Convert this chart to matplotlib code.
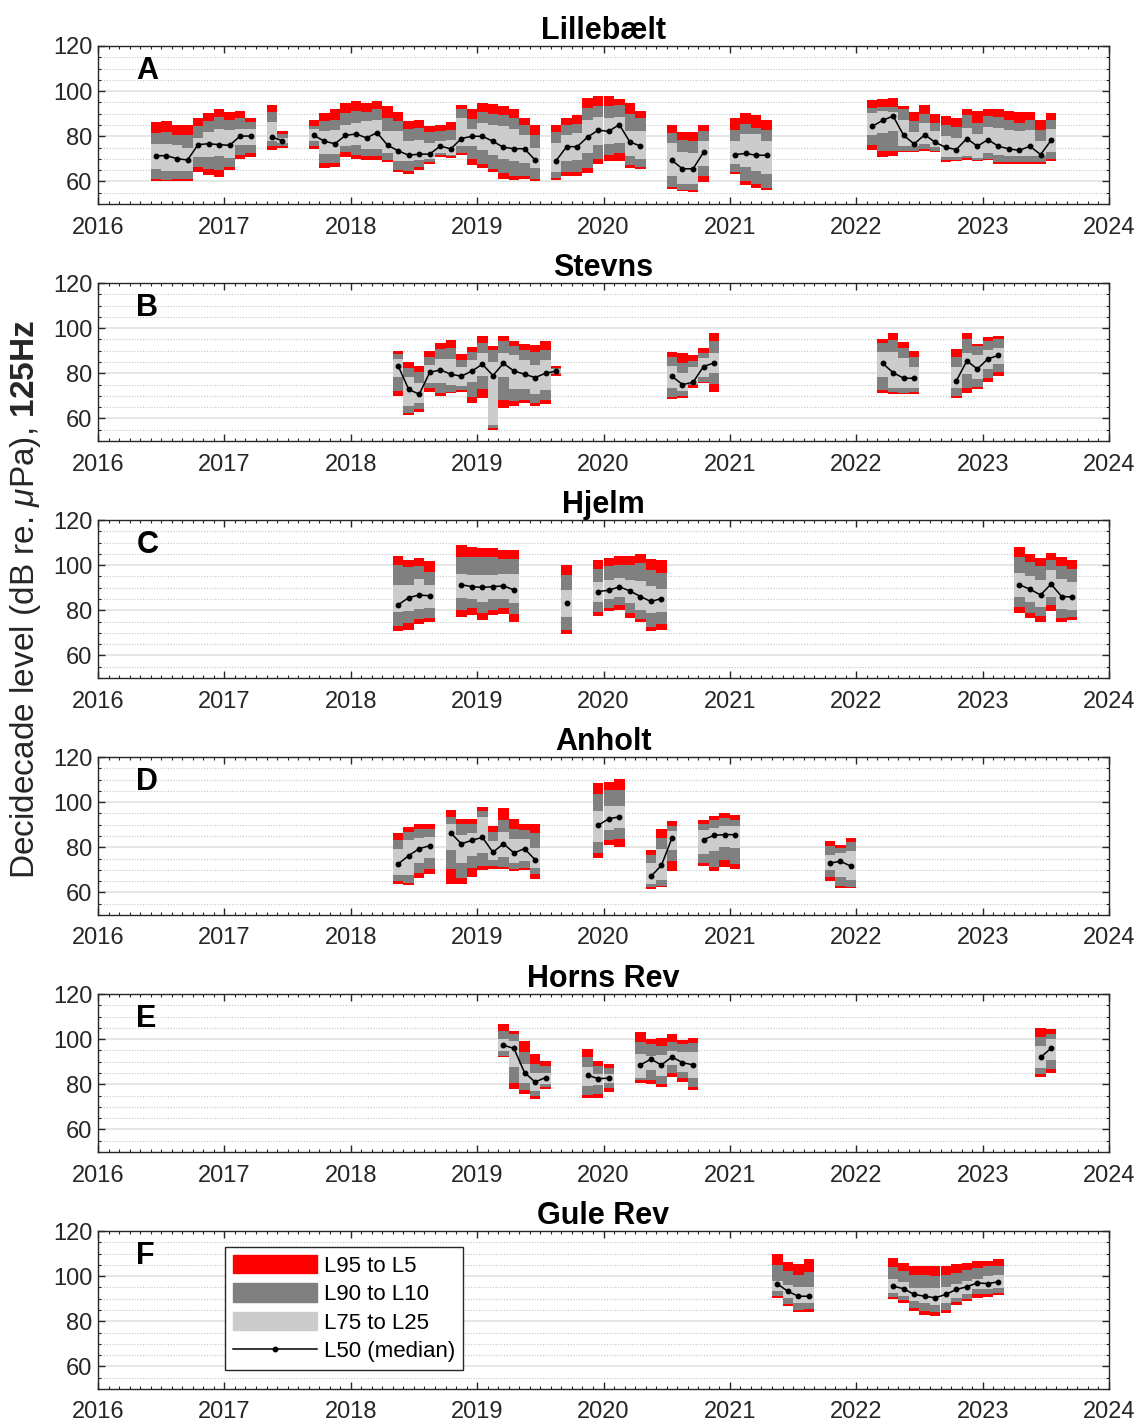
import numpy as np
import matplotlib
matplotlib.use("Agg")
import matplotlib.pyplot as plt
from matplotlib.patches import Patch
from matplotlib.lines import Line2D
import matplotlib.ticker as ticker

plt.rcParams["font.family"] = ["Liberation Sans", "DejaVu Sans"]
plt.rcParams["mathtext.fontset"] = "custom"
plt.rcParams["mathtext.rm"] = "Liberation Sans"
plt.rcParams["mathtext.it"] = "Liberation Sans:italic"
plt.rcParams["mathtext.bf"] = "Liberation Sans:bold"

nan = np.nan

# 每个站点: 起始月份, 然后逐月数值 (nan = 无数据)
# l5 最高 ... l95 最低
stations = ["Lillebælt", "Stevns", "Hjelm", "Anholt", "Horns Rev", "Gule Rev"]
letters = ["A", "B", "C", "D", "E", "F"]

# Lillebælt
lil_start = "2016-06"
lil_l5 = ([86.4, 86.7, 85.2, 85.2, 87.9, 90.4, 92.3, 90.8, 91.4, 88.1] + [nan] + [93.8, 82.2] + [nan] * 2
          + [87.0, 90.4, 91.9, 94.7, 95.6, 94.8, 95.6, 93.3, 90.8, 86.7, 87.3, 84.4, 84.9, 86.2, 93.8, 92.3, 94.8, 94.1, 93.3, 92.1, 88.1, 85.2] + [nan]
          + [85.2, 88.1, 89.3, 97.0, 97.8, 97.8, 96.7, 94.8, 91.4] + [nan] * 2 + [85.2, 81.9, 81.9, 85.2] + [nan] * 2
          + [88.1, 90.4, 89.6, 87.4] + [nan] * 9
          + [95.9, 96.7, 97.0, 93.3, 90.8, 93.8, 89.9, 88.9, 88.1, 91.9, 91.4, 92.3, 91.9, 91.4, 90.8, 90.8, 87.0, 90.4])
lil_l10 = ([81.5, 81.9, 80.7, 80.7, 84.6, 86.7, 88.6, 87.4, 88.1, 86.2] + [nan] + [90.8, 81.0] + [nan] * 2
           + [84.6, 86.7, 87.4, 90.4, 91.1, 90.8, 92.3, 88.1, 86.7, 83.4, 83.7, 81.9, 82.2, 82.9, 92.3, 87.7, 90.8, 89.9, 89.3, 88.1, 85.2, 80.7] + [nan]
           + [81.9, 85.2, 85.5, 92.6, 93.3, 93.3, 93.8, 89.9, 87.9] + [nan] * 2 + [81.5, 78.5, 77.8, 82.2] + [nan] * 2
           + [83.0, 85.5, 83.7, 83.0] + [nan] * 9
           + [92.6, 92.9, 92.9, 91.9, 86.7, 89.9, 85.9, 85.2, 84.0, 89.3, 85.9, 88.9, 88.5, 87.4, 85.9, 87.4, 83.0, 87.4])
lil_l25 = ([76.7, 76.7, 76.0, 74.8, 79.3, 81.9, 83.4, 82.8, 83.4, 83.4] + [nan] + [86.4, 79.3] + [nan] * 2
           + [83.1, 82.2, 82.8, 85.2, 85.9, 86.7, 87.4, 82.2, 82.2, 78.1, 78.4, 77.0, 77.8, 78.4, 87.9, 83.4, 85.9, 85.2, 84.4, 83.4, 80.7, 74.8] + [nan]
           + [77.0, 80.4, 81.3, 87.4, 88.4, 88.1, 88.4, 82.2, 82.2] + [nan] * 2 + [77.0, 72.9, 72.6, 77.8] + [nan] * 2
           + [78.1, 81.0, 81.0, 78.1] + [nan] * 9
           + [90.4, 91.1, 90.8, 87.4, 82.0, 85.9, 82.2, 80.0, 79.3, 83.7, 81.0, 84.0, 83.7, 83.0, 82.2, 83.0, 77.8, 83.4])
lil_l50 = ([71.4, 71.4, 70.1, 69.5, 76.3, 76.7, 76.3, 76.0, 80.1, 80.1] + [nan] + [79.6, 78.1] + [nan] * 2
           + [80.4, 77.8, 76.7, 80.4, 81.0, 79.3, 81.6, 76.0, 73.6, 71.6, 72.1, 72.1, 75.7, 74.4, 79.0, 80.0, 80.0, 77.8, 75.1, 74.5, 74.5, 69.5] + [nan]
           + [69.2, 75.4, 75.4, 79.7, 82.7, 82.2, 85.2, 77.5, 75.7] + [nan] * 2 + [69.3, 65.6, 65.6, 72.9] + [nan] * 2
           + [71.9, 72.4, 71.6, 71.6] + [nan] * 9
           + [84.4, 87.0, 89.0, 80.4, 76.6, 80.7, 77.3, 75.1, 74.1, 79.0, 75.6, 78.5, 75.6, 74.4, 73.8, 75.6, 71.9, 78.2])
lil_l75 = ([65.5, 64.7, 64.7, 64.4, 70.8, 70.7, 71.1, 70.4, 76.0, 76.0] + [nan] + [77.8, 77.0] + [nan] * 2
           + [77.8, 72.1, 72.1, 75.7, 76.0, 74.5, 74.5, 72.6, 68.9, 68.9, 69.6, 70.1, 72.7, 71.9, 75.6, 75.6, 74.1, 71.9, 70.1, 69.2, 68.1, 65.9] + [nan]
           + [64.0, 69.2, 69.6, 72.6, 76.0, 76.7, 77.0, 71.1, 70.1] + [nan] * 2 + [62.2, 58.8, 58.8, 66.8] + [nan] * 2
           + [67.9, 66.2, 64.4, 63.3] + [nan] * 9
           + [80.4, 81.5, 82.2, 75.6, 75.6, 76.6, 75.1, 70.7, 70.7, 71.1, 70.4, 72.6, 71.9, 71.1, 71.1, 71.1, 71.1, 73.0])
lil_l90 = ([61.2, 60.7, 61.0, 61.2, 66.2, 65.5, 65.0, 66.5, 71.7, 72.4] + [nan] + [75.6, 75.6] + [nan] * 2
           + [75.6, 68.1, 68.1, 72.9, 71.9, 71.4, 71.1, 69.6, 65.2, 64.7, 66.2, 68.6, 71.6, 71.1, 72.7, 69.9, 67.9, 65.5, 63.7, 62.2, 62.2, 61.2] + [nan]
           + [61.5, 64.0, 64.0, 65.9, 70.1, 71.9, 72.6, 67.1, 66.5] + [nan] * 2 + [57.5, 56.3, 56.3, 62.2] + [nan] * 2
           + [64.1, 60.3, 58.8, 57.3] + [nan] * 9
           + [76.3, 73.3, 73.3, 73.3, 73.6, 74.5, 73.6, 69.6, 69.6, 70.4, 69.6, 70.1, 68.6, 68.6, 68.6, 68.6, 68.6, 70.1])
lil_l95 = ([60.3, 60.0, 60.3, 60.3, 64.0, 62.7, 61.9, 65.0, 69.9, 70.8] + [nan] + [74.1, 74.8] + [nan] * 2
           + [74.4, 65.9, 66.2, 71.0, 70.1, 69.6, 69.3, 68.6, 64.0, 63.4, 64.9, 67.7, 70.8, 70.4, 71.7, 67.1, 65.9, 64.0, 61.2, 60.7, 61.0, 60.0] + [nan]
           + [60.7, 62.2, 62.5, 63.7, 67.7, 69.2, 68.9, 65.9, 65.6] + [nan] * 2 + [56.6, 55.6, 55.3, 59.6] + [nan] * 2
           + [63.3, 58.2, 57.3, 56.3] + [nan] * 9
           + [74.1, 70.7, 71.1, 73.0, 73.0, 73.6, 72.9, 68.6, 68.9, 69.6, 68.9, 69.6, 67.7, 67.7, 67.7, 67.7, 67.7, 69.2])

# Stevns
ste_start = "2018-05"
ste_l5 = ([89.9, 85.2, 83.4, 89.9, 93.3, 94.8, 88.4, 91.6, 96.3, 92.3, 96.3, 94.1, 93.0, 92.6, 94.1, 83.4] + [nan] * 10
          + [89.6, 89.2, 87.9, 91.1, 97.8] + [nan] * 15 + [95.3, 97.8, 93.8, 89.9] + [nan] * 3 + [90.8, 97.8, 93.0, 95.9, 96.6])
ste_l10 = ([88.7, 82.5, 80.7, 87.4, 90.8, 91.4, 85.9, 89.6, 93.3, 90.4, 94.1, 91.9, 90.4, 89.3, 90.4, 82.5] + [nan] * 10
           + [87.0, 84.7, 85.5, 88.9, 94.1] + [nan] * 15 + [93.3, 94.8, 91.1, 87.0] + [nan] * 3 + [87.4, 95.3, 91.9, 94.4, 95.3])
ste_l25 = ([86.4, 78.5, 75.6, 83.7, 86.4, 86.4, 83.0, 85.9, 88.9, 85.2, 88.9, 87.9, 85.9, 83.7, 85.9, 81.9] + [nan] * 10
           + [83.4, 80.3, 82.8, 86.7, 88.9] + [nan] * 15 + [89.6, 89.6, 86.7, 83.0] + [nan] * 3 + [83.0, 88.9, 87.9, 90.4, 91.1])
ste_l50 = ([83.3, 72.9, 70.7, 80.4, 81.5, 79.6, 78.7, 81.0, 84.0, 79.0, 84.4, 81.0, 79.6, 78.1, 80.0, 81.0] + [nan] * 10
           + [78.7, 75.0, 76.0, 83.0, 84.6] + [nan] * 15 + [84.4, 80.3, 77.8, 77.8] + [nan] * 3 + [76.6, 85.5, 81.9, 86.4, 87.9])
ste_l75 = ([78.5, 65.6, 66.7, 75.6, 75.6, 74.8, 74.5, 76.3, 78.8, 57.0, 78.5, 73.0, 73.0, 70.7, 72.6, 80.0] + [nan] * 10
           + [73.6, 72.1, 75.3, 78.5, 80.0] + [nan] * 15 + [78.5, 73.6, 73.3, 73.3] + [nan] * 3 + [73.6, 79.6, 77.5, 81.9, 84.0])
ste_l90 = ([72.1, 62.5, 64.1, 73.3, 71.1, 71.9, 72.6, 69.6, 73.0, 55.6, 68.1, 67.9, 68.1, 66.7, 68.1, 79.6] + [nan] * 10
           + [69.6, 69.9, 74.8, 76.3, 75.1] + [nan] * 15 + [72.6, 71.9, 71.4, 71.9] + [nan] * 3 + [69.9, 73.3, 74.1, 78.1, 80.4])
ste_l95 = ([69.8, 61.5, 63.0, 71.9, 69.9, 71.1, 71.9, 66.7, 69.2, 55.0, 64.7, 65.6, 66.7, 65.6, 66.4, 78.8] + [nan] * 10
           + [68.6, 69.2, 73.6, 75.6, 71.9] + [nan] * 15 + [71.4, 70.7, 70.7, 71.0] + [nan] * 3 + [68.9, 71.1, 73.0, 76.3, 79.0])

# Hjelm
hje_start = "2018-05"
hje_l5 = ([104.1, 102.4, 103.0, 101.9] + [nan] * 2 + [108.9, 108.0, 107.4, 107.4, 106.7, 106.7] + [nan] * 4 + [100.0] + [nan] * 2
          + [102.4, 103.1, 103.9, 103.9, 104.9, 102.7, 102.4] + [nan] * 33 + [107.9, 104.9, 103.1, 105.6, 103.4, 102.2])
hje_l10 = ([100.0, 99.0, 99.6, 97.0] + [nan] * 2 + [103.4, 103.4, 103.4, 103.4, 102.7, 102.7] + [nan] * 4 + [95.6] + [nan] * 2
           + [98.2, 99.7, 100.0, 100.0, 100.9, 97.9, 96.4] + [nan] * 33 + [103.6, 101.2, 99.7, 102.4, 99.4, 98.2])
hje_l25 = ([91.3, 91.3, 93.8, 91.3] + [nan] * 2 + [96.0, 95.6, 95.6, 95.6, 96.0, 96.0] + [nan] * 4 + [89.0] + [nan] * 2
           + [92.7, 93.5, 94.5, 93.5, 93.0, 90.8, 89.6] + [nan] * 33 + [96.4, 95.0, 93.3, 97.8, 93.8, 92.7])
hje_l50 = ([82.4, 85.6, 86.8, 86.4] + [nan] * 2 + [91.3, 90.5, 90.1, 90.5, 90.8, 89.0] + [nan] * 4 + [83.1] + [nan] * 2
           + [88.3, 88.9, 90.4, 88.6, 86.1, 83.9, 85.2] + [nan] * 33 + [91.3, 89.3, 86.8, 91.6, 86.1, 85.9])
hje_l75 = ([79.4, 79.7, 80.4, 81.2] + [nan] * 2 + [85.3, 84.9, 83.7, 84.9, 85.2, 83.4] + [nan] * 4 + [77.2] + [nan] * 2
           + [83.7, 84.9, 86.1, 83.4, 80.1, 78.7, 79.3] + [nan] * 33 + [85.9, 83.7, 81.6, 86.1, 80.4, 80.1])
hje_l90 = ([73.0, 74.2, 76.3, 76.7] + [nan] * 2 + [80.0, 81.2, 79.0, 80.1, 80.9, 78.2] + [nan] * 4 + [71.3] + [nan] * 2
           + [79.3, 81.2, 82.2, 79.0, 76.0, 72.7, 73.8] + [nan] * 33 + [81.5, 79.0, 77.5, 82.2, 76.7, 77.2])
hje_l95 = ([70.8, 71.3, 74.1, 74.8] + [nan] * 2 + [77.0, 77.8, 75.7, 77.8, 78.2, 74.8] + [nan] * 4 + [69.3] + [nan] * 2
           + [77.5, 79.7, 80.1, 76.7, 74.8, 70.8, 71.1] + [nan] * 33 + [79.0, 76.7, 74.8, 79.7, 74.8, 75.6])

# Anholt
anh_start = "2018-05"
anh_l5 = ([86.4, 89.0, 90.1, 90.5] + [nan] + [96.4, 92.6, 92.6, 97.8, 89.6, 97.5, 92.6, 90.5, 90.1] + [nan] * 5
          + [108.3, 108.9, 110.1] + [nan] * 2 + [78.7, 87.9, 91.6] + [nan] * 2 + [92.0, 93.8, 95.3, 94.5] + [nan] * 8 + [82.7, 81.2, 84.1])
anh_l10 = ([83.1, 86.8, 87.9, 88.3] + [nan] + [93.5, 90.4, 90.5, 96.0, 86.7, 92.0, 88.1, 87.6, 86.4] + [nan] * 5
           + [103.4, 105.3, 105.6] + [nan] * 2 + [76.7, 84.1, 89.6] + [nan] * 2 + [90.1, 92.0, 93.0, 92.3] + [nan] * 8 + [80.7, 79.7, 82.4])
anh_l25 = ([79.4, 83.4, 84.1, 84.6] + [nan] + [90.1, 85.6, 86.4, 93.5, 82.7, 86.7, 83.7, 83.7, 79.7] + [nan] * 5
           + [96.0, 98.5, 98.5] + [nan] * 2 + [73.0, 79.3, 87.1] + [nan] * 2 + [87.6, 88.6, 89.3, 89.3] + [nan] * 8 + [76.7, 77.5, 78.2])
anh_l50 = ([72.6, 76.3, 79.4, 80.7] + [nan] + [86.4, 81.5, 83.1, 84.4, 77.8, 81.6, 77.5, 79.4, 74.5] + [nan] * 5
           + [89.8, 92.6, 93.5] + [nan] * 2 + [67.1, 72.0, 84.1] + [nan] * 2 + [83.4, 85.3, 85.6, 85.6] + [nan] * 8 + [73.0, 73.8, 71.6])
anh_l75 = ([67.6, 67.9, 73.0, 75.3] + [nan] + [78.7, 73.0, 76.3, 77.5, 74.2, 75.6, 73.0, 73.8, 70.8] + [nan] * 5
           + [82.2, 87.6, 88.6] + [nan] * 2 + [63.7, 65.6, 79.0] + [nan] * 2 + [77.2, 78.2, 80.1, 79.7] + [nan] * 8 + [70.1, 66.8, 65.6])
anh_l90 = ([64.9, 64.1, 68.6, 70.4] + [nan] + [70.4, 66.4, 70.8, 71.6, 71.6, 71.3, 70.4, 70.8, 68.3] + [nan] * 5
           + [77.5, 83.4, 83.7] + [nan] * 2 + [62.2, 63.0, 73.8] + [nan] * 2 + [73.0, 71.3, 74.2, 72.6] + [nan] * 8 + [66.8, 62.7, 62.4])
anh_l95 = ([63.9, 63.1, 66.4, 68.3] + [nan] + [63.7, 63.9, 66.8, 70.1, 70.4, 70.4, 69.3, 70.1, 66.1] + [nan] * 5
           + [75.3, 81.2, 80.0] + [nan] * 2 + [61.5, 62.2, 69.3] + [nan] * 2 + [71.6, 69.3, 71.3, 70.4] + [nan] * 8 + [64.9, 61.9, 61.9])

# Horns Rev
hor_start = "2019-03"
hor_l5 = ([106.7, 103.7, 99.0, 93.3, 90.1] + [nan] * 3 + [95.6, 90.4, 88.9] + [nan] * 2
          + [103.0, 100.0, 100.4, 102.5, 99.6, 100.4] + [nan] * 32 + [104.9, 104.4])
hor_l10 = ([103.4, 102.2, 94.1, 88.9, 87.9] + [nan] * 3 + [91.9, 88.1, 87.1] + [nan] * 2
           + [98.9, 97.8, 97.0, 98.9, 97.8, 98.5] + [nan] * 32 + [101.0, 102.5])
hor_l25 = ([100.0, 99.3, 88.9, 85.2, 85.2] + [nan] * 3 + [87.7, 84.7, 84.7] + [nan] * 2
           + [93.3, 92.6, 93.0, 94.8, 94.1, 94.5] + [nan] * 32 + [97.0, 100.0])
hor_l50 = ([97.3, 95.9, 85.2, 81.0, 83.0] + [nan] * 3 + [84.0, 82.5, 82.7] + [nan] * 2
           + [88.6, 91.1, 88.6, 92.1, 89.6, 88.6] + [nan] * 32 + [91.9, 96.0])
hor_l75 = ([94.8, 87.7, 80.7, 77.0, 80.0] + [nan] * 3 + [79.3, 79.6, 80.7] + [nan] * 2
           + [82.7, 86.2, 83.7, 88.6, 85.5, 82.7] + [nan] * 32 + [87.1, 90.7])
hor_l90 = ([92.6, 80.7, 77.3, 74.8, 78.8] + [nan] * 3 + [75.3, 75.6, 78.2] + [nan] * 2
           + [82.1, 81.8, 80.3, 85.2, 82.7, 79.0] + [nan] * 32 + [84.7, 86.7])
hor_l95 = ([91.9, 77.8, 75.9, 73.3, 78.1] + [nan] * 3 + [73.8, 74.1, 76.7] + [nan] * 2
           + [80.7, 80.0, 78.8, 83.3, 81.2, 77.5] + [nan] * 32 + [83.3, 85.2])

# Gule Rev
gul_start = "2021-05"
gul_l5 = [109.6, 106.2, 105.2, 107.4] + [nan] * 7 + [108.1, 105.9, 104.7, 104.4, 104.7, 104.7, 105.2, 105.9, 106.7, 106.7, 107.4]
gul_l10 = [104.9, 102.2, 100.3, 101.8] + [nan] * 7 + [104.1, 102.2, 100.4, 100.3, 100.0, 100.4, 101.5, 102.7, 103.7, 104.4, 104.7]
gul_l25 = [97.8, 95.9, 95.1, 95.3] + [nan] * 7 + [98.8, 97.3, 94.8, 94.8, 94.8, 95.3, 96.3, 97.8, 98.8, 100.0, 100.7]
gul_l50 = [96.6, 93.3, 91.1, 91.1] + [nan] * 7 + [95.6, 94.4, 91.9, 91.1, 90.4, 91.9, 94.1, 95.3, 97.0, 96.7, 97.5]
gul_l75 = [93.3, 90.4, 87.9, 87.9] + [nan] * 7 + [92.6, 91.4, 88.9, 87.9, 87.0, 88.1, 90.4, 91.9, 94.1, 94.4, 94.8]
gul_l90 = [91.4, 87.7, 85.2, 85.5] + [nan] * 7 + [90.8, 89.3, 85.9, 84.4, 84.0, 85.2, 88.4, 89.9, 91.9, 91.9, 92.6]
gul_l95 = [90.4, 86.7, 84.0, 84.0] + [nan] * 7 + [89.9, 88.1, 84.7, 83.0, 82.2, 83.7, 87.1, 88.9, 90.4, 90.8, 91.6]

data = [
    (lil_start, lil_l5, lil_l10, lil_l25, lil_l50, lil_l75, lil_l90, lil_l95),
    (ste_start, ste_l5, ste_l10, ste_l25, ste_l50, ste_l75, ste_l90, ste_l95),
    (hje_start, hje_l5, hje_l10, hje_l25, hje_l50, hje_l75, hje_l90, hje_l95),
    (anh_start, anh_l5, anh_l10, anh_l25, anh_l50, anh_l75, anh_l90, anh_l95),
    (hor_start, hor_l5, hor_l10, hor_l25, hor_l50, hor_l75, hor_l90, hor_l95),
    (gul_start, gul_l5, gul_l10, gul_l25, gul_l50, gul_l75, gul_l90, gul_l95),
]

RED = "#ff0000"
DARK = "#808080"
LIGHT = "#cccccc"
AXC = "#262626"


def draw_station(ax, start, l5, l10, l25, l50, l75, l90, l95):
    y0, m0 = int(start[:4]), int(start[5:7])
    l5, l10, l25, l50, l75, l90, l95 = [np.array(v, dtype=float) for v in (l5, l10, l25, l50, l75, l90, l95)]
    x = y0 + (m0 - 1 + np.arange(len(l50))) / 12.0
    w = 1 / 12.0
    ok = ~np.isnan(l50)
    for hi, lo, c in [(l5, l95, RED), (l10, l90, DARK), (l25, l75, LIGHT)]:
        ax.bar(x[ok], (hi - lo)[ok], bottom=lo[ok], width=w, align="edge",
               color=c, linewidth=0, antialiased=False, zorder=2)
    ax.plot(x + w / 2, l50, color="k", lw=1.1, marker="o", ms=3.2, zorder=3)


fig = plt.figure(figsize=(11.46, 14.27), dpi=100)
left, width, height = 98 / 1146, 1011 / 1146, 158 / 1427
tops = [46, 283, 520, 757, 994, 1231]

for i, (name, letter, d) in enumerate(zip(stations, letters, data)):
    ax = fig.add_axes([left, 1 - (tops[i] + 158) / 1427, width, height])
    draw_station(ax, *d)
    ax.set_xlim(2016, 2024)
    ax.set_ylim(50, 120)
    ax.set_xticks(range(2016, 2025))
    ax.set_yticks([60, 80, 100, 120])
    ax.xaxis.set_minor_locator(ticker.MultipleLocator(1 / 12))
    ax.yaxis.set_minor_locator(ticker.MultipleLocator(5))
    ax.set_axisbelow(True)
    ax.yaxis.grid(True, which="major", color="#e2e2e2", lw=1.2, ls="-", zorder=0)
    ax.yaxis.grid(True, which="minor", color="#c4c4c4", lw=0.8, ls=(0, (1, 1.5)), zorder=0)
    ax.tick_params(which="both", direction="in", top=True, right=True, colors=AXC, labelsize=17)
    ax.tick_params(which="major", length=5, width=1)
    ax.tick_params(which="minor", length=2.5, width=0.8)
    ax.tick_params(axis="x", pad=9)
    ax.tick_params(axis="y", pad=4)
    for s in ax.spines.values():
        s.set_color(AXC)
        s.set_linewidth(1)
    ax.set_title(name, fontsize=22, fontweight="bold", pad=4)
    ax.text(0.038, 0.84, letter, transform=ax.transAxes, fontsize=22, fontweight="bold",
            ha="left", va="center", zorder=5)

    if i == 5:
        handles = [Patch(facecolor=RED, edgecolor=RED), Patch(facecolor=DARK, edgecolor=DARK),
                   Patch(facecolor=LIGHT, edgecolor=LIGHT),
                   Line2D([], [], color="k", lw=1.1, marker="o", ms=3.2)]
        labels = ["L95 to L5", "L90 to L10", "L75 to L25", "L50 (median)"]
        leg = ax.legend(handles, labels, loc="upper left", bbox_to_anchor=(0.1256, 0.899),
                        borderaxespad=0, fontsize=16, handlelength=3.8, handleheight=0.9,
                        labelspacing=0.3, handletextpad=0.3, borderpad=0.35,
                        fancybox=False, framealpha=1, edgecolor=AXC)
        leg.get_frame().set_linewidth(1)
        leg.set_zorder(6)

fig.text(0.022, 0.580, r"Decidecade level (dB re. $\mu$Pa), $\mathbf{125Hz}$",
         rotation=90, ha="center", va="center", fontsize=24, color=AXC)

fig.savefig("out.png", dpi=100)
